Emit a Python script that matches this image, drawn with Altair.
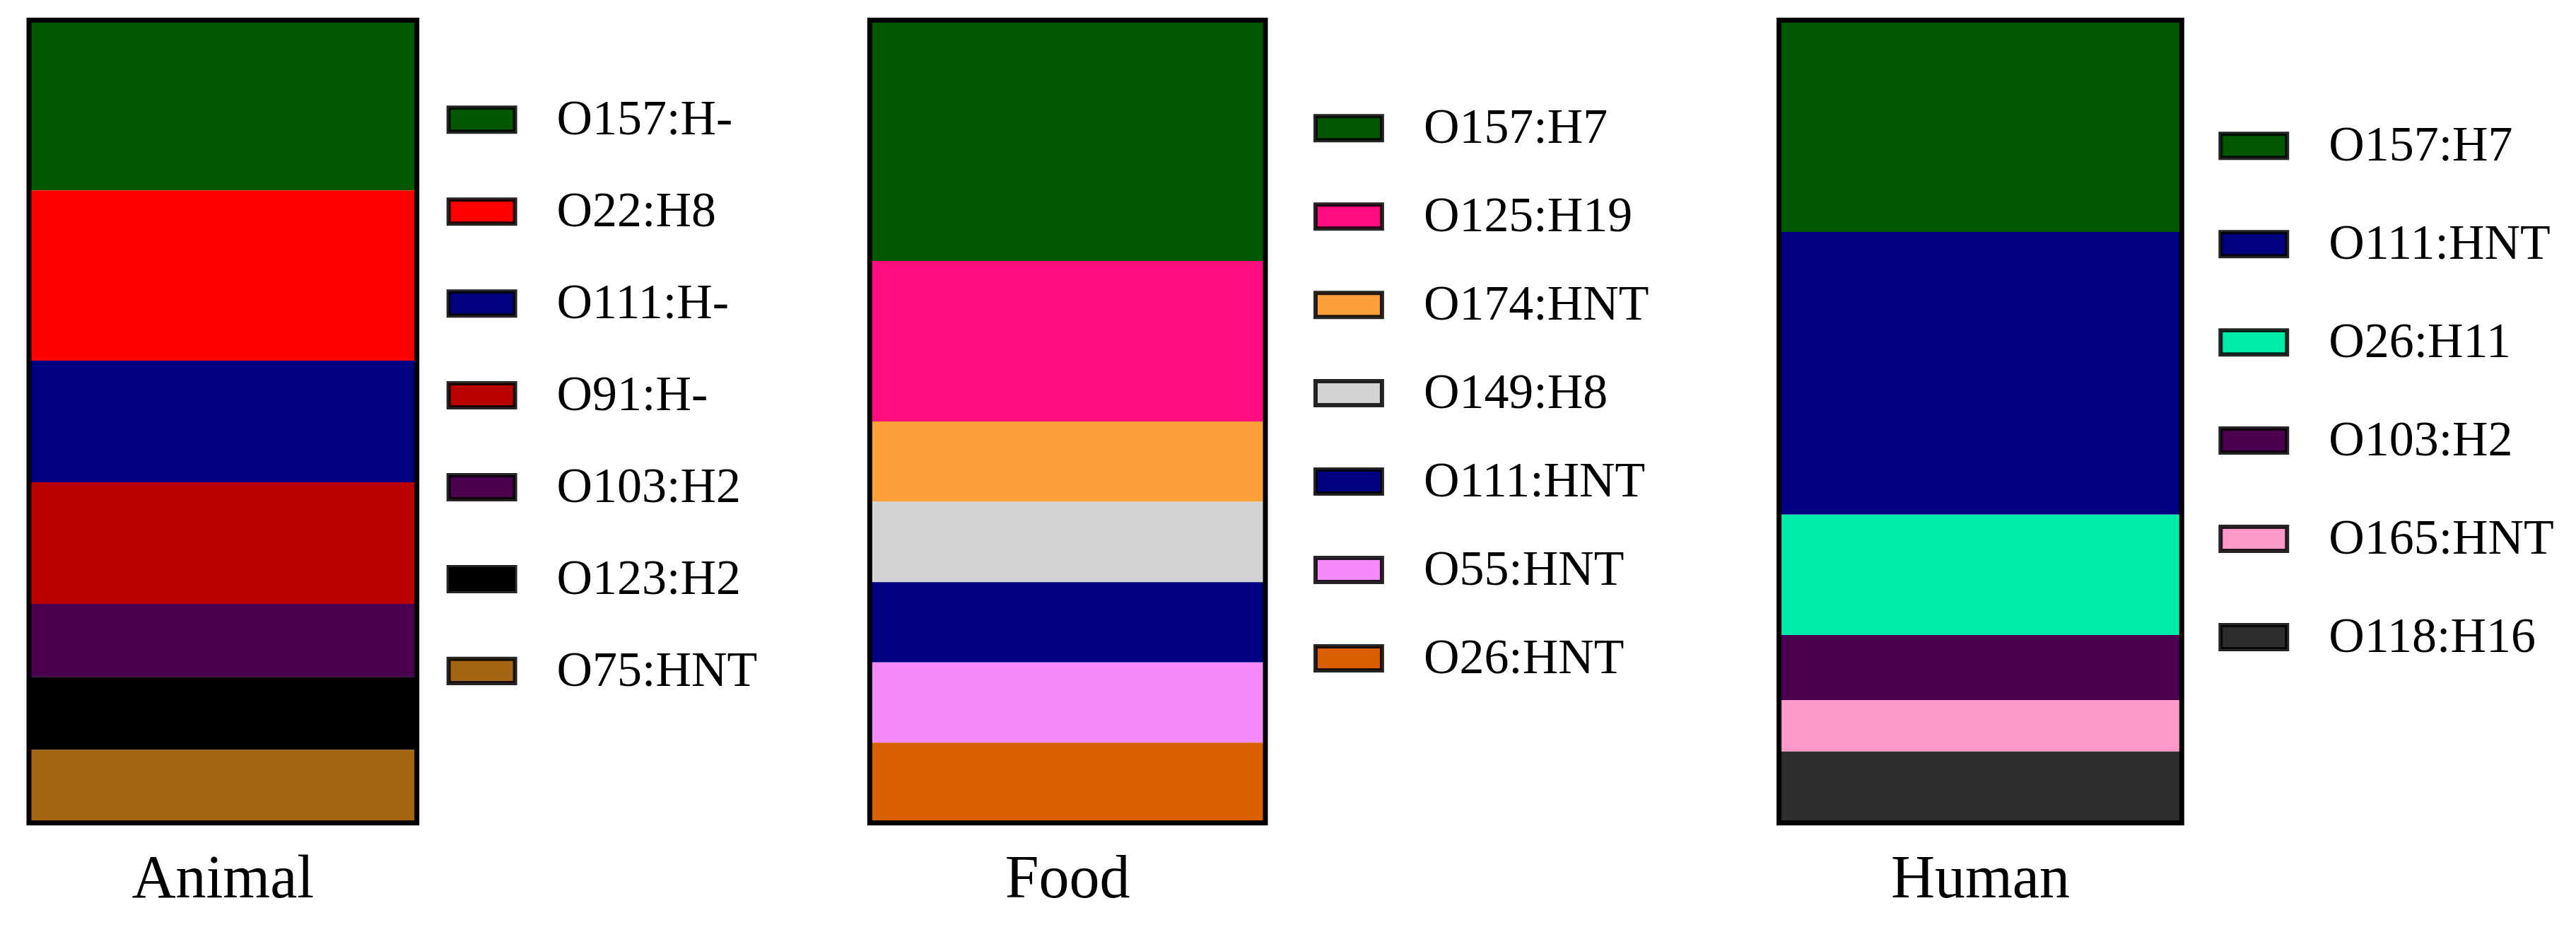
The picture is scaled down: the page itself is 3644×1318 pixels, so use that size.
import altair as alt
import pandas as pd

FONT = "Liberation Serif"

# ---- data ----
sources = ["Animal", "Food", "Human"]

animal_serotypes = ["O157:H-", "O22:H8", "O111:H-", "O91:H-", "O103:H2", "O123:H2", "O75:HNT"]
animal_counts = [7, 7, 5, 5, 3, 3, 3]

food_serotypes = ["O157:H7", "O125:H19", "O174:HNT", "O149:H8", "O111:HNT", "O55:HNT", "O26:HNT"]
food_counts = [3, 2, 1, 1, 1, 1, 1]

human_serotypes = ["O157:H7", "O111:HNT", "O26:H11", "O103:H2", "O165:HNT", "O118:H16"]
human_shares = [26.4, 35.2, 15.0, 8.1, 6.4, 8.9]

# ---- colours ----
animal_colors = ["#015801", "#FF0000", "#000080", "#BB0000", "#4B0050", "#000000", "#A66512"]
food_colors = ["#015801", "#FF0D7F", "#FDA03A", "#D3D3D3", "#000080", "#F58BF8", "#D96000"]
human_colors = ["#015801", "#000080", "#00ECAC", "#4B0050", "#FD99CA", "#2D2D2D"]

BOX = "M-1,-0.362L1,-0.362L1,0.362L-1,0.362Z"
PLOT_H = 1136


def panel(name, serotypes, values, colors, plot_w, bar_w, leg_x, leg_y, row_pad):
    df = pd.DataFrame({
        "source": [name] * len(serotypes),
        "serotype": serotypes,
        "value": values,
        "idx": list(range(len(serotypes))),
    })
    p_outer = (plot_w / bar_w - 1) / 2
    xscale = alt.Scale(paddingInner=0, paddingOuter=p_outer, align=0)
    xaxis = alt.Axis(title=None, labelAngle=0, ticks=False, tickSize=0, domain=False,
                     grid=False, labelFont=FONT, labelFontSize=86, labelColor="black",
                     labelPadding=37, labelLimit=2000)
    yscale = alt.Scale(reverse=True, domain=[0, 1], nice=False)
    segs = alt.Chart(df).mark_bar(strokeWidth=0).encode(
        x=alt.X("source:N", scale=xscale, axis=xaxis),
        y=alt.Y("value:Q", stack="normalize", scale=yscale, axis=None),
        color=alt.Color("serotype:N", sort=None,
                        scale=alt.Scale(domain=serotypes, range=colors),
                        legend=alt.Legend(title=None, orient="none", legendX=leg_x, legendY=leg_y,
                                          symbolType=BOX, symbolSize=8836,
                                          symbolStrokeColor="rgba(0,0,0,0.85)", symbolStrokeWidth=6,
                                          labelFont=FONT, labelFontSize=70, labelColor="black",
                                          labelOffset=56, labelLimit=1000, rowPadding=row_pad,
                                          padding=0)),
        order=alt.Order("idx:Q"),
    )
    frame = alt.Chart(df).transform_aggregate(
        total="sum(value)", groupby=["source"]
    ).mark_bar(fillOpacity=0, stroke="black", strokeWidth=7).encode(
        x=alt.X("source:N", scale=xscale, axis=xaxis),
        y=alt.datum(0, scale=yscale),
        y2=alt.datum(1),
    )
    return alt.layer(segs, frame).properties(width=plot_w, height=PLOT_H)


chart = alt.hconcat(
    panel(sources[0], animal_serotypes, animal_counts, animal_colors, 1190, 549, 591, 91, 45),
    panel(sources[1], food_serotypes, food_counts, food_colors, 1287, 560, 628, 103, 40),
    panel(sources[2], human_serotypes, human_shares, human_colors, 1100, 570, 622, 128, 54),
    spacing=0,
    bounds="flush",
).resolve_scale(
    color="independent", x="independent", y="independent"
).properties(
    padding={"left": 29, "top": 16, "right": 20, "bottom": 140},
    background="white",
).configure_view(strokeWidth=0)

chart.save("out.html", embed_options={"renderer": "svg", "actions": False})
